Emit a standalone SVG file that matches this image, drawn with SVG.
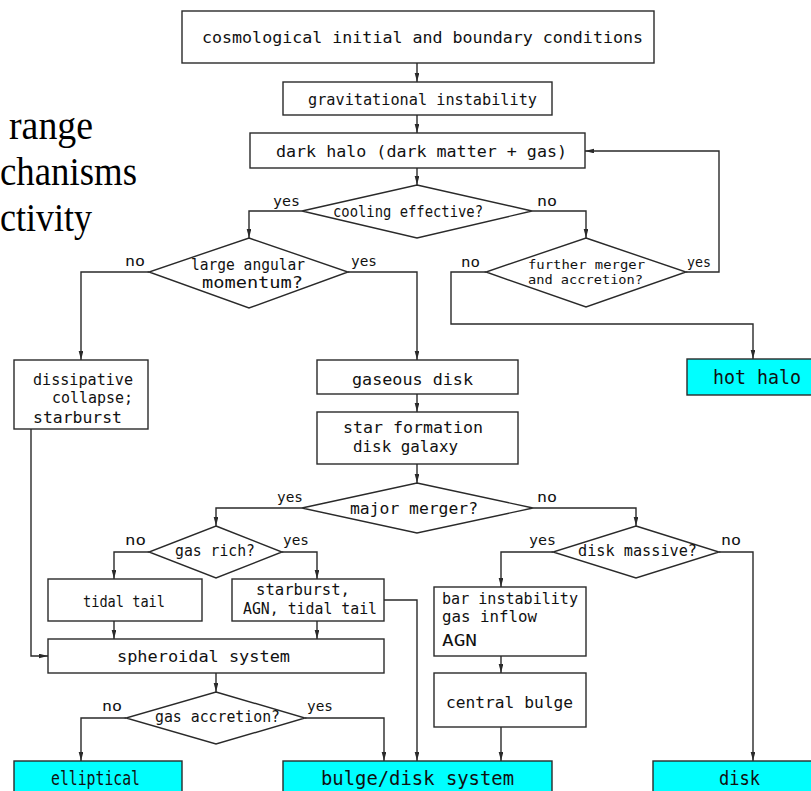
<svg xmlns="http://www.w3.org/2000/svg" width="811" height="791" viewBox="0 0 811 791">
<style>
  .box{fill:#fff;stroke:#2a2a2a;stroke-width:1.4}
  .term{fill:#00ffff;stroke:#2a2a2a;stroke-width:1.4}
  .dia{fill:#fff;stroke:#2a2a2a;stroke-width:1.4}
  .con{fill:none;stroke:#2a2a2a;stroke-width:1.4}
  text{font-family:"DejaVu Sans Mono","Liberation Mono",monospace;fill:#111}
  .t{font-size:16px}
  .s{font-size:13px}
  .l{font-size:14px}
  .big{font-size:19px}
  .slide{font-family:"Liberation Serif","Times New Roman",serif;font-size:39px;fill:#000}
</style>
<defs>
  <marker id="ah" markerUnits="userSpaceOnUse" markerWidth="10" markerHeight="6" refX="9" refY="2.3" orient="auto">
    <path d="M0,0 L9,2.3 L0,4.6 z" fill="#2a2a2a"/>
  </marker>
</defs>
<rect width="811" height="791" fill="#fff"/>

<g id="slide-text">
  <text class="slide" x="9" y="139" textLength="84" lengthAdjust="spacingAndGlyphs">range</text>
  <text class="slide" x="0" y="185" textLength="137" lengthAdjust="spacingAndGlyphs">chanisms</text>
  <text class="slide" x="0" y="231" textLength="92" lengthAdjust="spacingAndGlyphs">ctivity</text>
</g>

<g id="connectors">
  <path class="con" marker-end="url(#ah)" d="M417,63 V82"/>
  <path class="con" marker-end="url(#ah)" d="M417,115 V133"/>
  <path class="con" marker-end="url(#ah)" d="M417,168 V185"/>
  <path class="con" marker-end="url(#ah)" d="M302,211 H249 V238"/>
  <path class="con" marker-end="url(#ah)" d="M532,211 H586 V238"/>
  <path class="con" marker-end="url(#ah)" d="M686,272 H719 V151 H585"/>
  <path class="con" marker-end="url(#ah)" d="M486,272 H451 V324 H753 V359"/>
  <path class="con" marker-end="url(#ah)" d="M149,272 H81 V360"/>
  <path class="con" marker-end="url(#ah)" d="M348,272 H417 V360"/>
  <path class="con" marker-end="url(#ah)" d="M417,394 V412"/>
  <path class="con" marker-end="url(#ah)" d="M417,464 V483"/>
  <path class="con" marker-end="url(#ah)" d="M302,508 H216 V526"/>
  <path class="con" marker-end="url(#ah)" d="M533,508 H636 V526"/>
  <path class="con" marker-end="url(#ah)" d="M149,552 H114 V579"/>
  <path class="con" marker-end="url(#ah)" d="M282,552 H317 V579"/>
  <path class="con" marker-end="url(#ah)" d="M553,552 H501 V587"/>
  <path class="con" marker-end="url(#ah)" d="M719,552 H753 V761"/>
  <path class="con" marker-end="url(#ah)" d="M384,600 H417 V761"/>
  <path class="con" marker-end="url(#ah)" d="M114,621 V639"/>
  <path class="con" marker-end="url(#ah)" d="M317,621 V639"/>
  <path class="con" marker-end="url(#ah)" d="M31,429 V656 H48"/>
  <path class="con" marker-end="url(#ah)" d="M216,673 V692"/>
  <path class="con" marker-end="url(#ah)" d="M126,718 H81 V761"/>
  <path class="con" marker-end="url(#ah)" d="M305,718 H384 V761"/>
  <path class="con" marker-end="url(#ah)" d="M501,656 V673"/>
  <path class="con" marker-end="url(#ah)" d="M501,727 V761"/>
</g>

<g id="n-cosmo">
  <rect class="box" x="182" y="11" width="472" height="52"/>
  <text class="t" x="202" y="43" textLength="441" lengthAdjust="spacingAndGlyphs">cosmological initial and boundary conditions</text>
</g>
<g id="n-grav">
  <rect class="box" x="283" y="82" width="269" height="33"/>
  <text class="t" x="308" y="105" textLength="229" lengthAdjust="spacingAndGlyphs">gravitational instability</text>
</g>
<g id="n-darkhalo">
  <rect class="box" x="250" y="133" width="335" height="35"/>
  <text class="t" x="276" y="157" textLength="291" lengthAdjust="spacingAndGlyphs">dark halo (dark matter + gas)</text>
</g>
<g id="n-cooling">
  <polygon class="dia" points="417,185 532,211 417,238 302,211"/>
  <text class="t" x="333" y="217" textLength="150" lengthAdjust="spacingAndGlyphs">cooling effective?</text>
  <text class="l" x="273" y="206" textLength="27" lengthAdjust="spacingAndGlyphs">yes</text>
  <text class="l" x="537" y="206" textLength="20" lengthAdjust="spacingAndGlyphs">no</text>
</g>
<g id="n-angular">
  <polygon class="dia" points="249,238 348,272 249,308 149,272"/>
  <text class="t" x="191" y="270" textLength="114" lengthAdjust="spacingAndGlyphs">large angular</text>
  <text class="t" x="202" y="288" textLength="101" lengthAdjust="spacingAndGlyphs">momentum?</text>
  <text class="l" x="125" y="266" textLength="20" lengthAdjust="spacingAndGlyphs">no</text>
  <text class="l" x="351" y="266" textLength="26" lengthAdjust="spacingAndGlyphs">yes</text>
</g>
<g id="n-further">
  <polygon class="dia" points="586,238 686,272 586,307 486,272"/>
  <text class="s" x="528" y="269" textLength="117" lengthAdjust="spacingAndGlyphs">further merger</text>
  <text class="s" x="528" y="284" textLength="115" lengthAdjust="spacingAndGlyphs">and accretion?</text>
  <text class="l" x="461" y="267" textLength="19" lengthAdjust="spacingAndGlyphs">no</text>
  <text class="l" x="687" y="267" textLength="24" lengthAdjust="spacingAndGlyphs">yes</text>
</g>
<g id="n-hothalo">
  <rect class="term" x="687" y="359" width="130" height="36"/>
  <text class="big" x="713" y="384" textLength="88" lengthAdjust="spacingAndGlyphs">hot halo</text>
</g>
<g id="n-dissipative">
  <rect class="box" x="14" y="360" width="134" height="69"/>
  <text class="t" x="33" y="385" textLength="100" lengthAdjust="spacingAndGlyphs">dissipative</text>
  <text class="t" x="52" y="403" textLength="81" lengthAdjust="spacingAndGlyphs">collapse;</text>
  <text class="t" x="33" y="423" textLength="89" lengthAdjust="spacingAndGlyphs">starburst</text>
</g>
<g id="n-gaseous">
  <rect class="box" x="317" y="360" width="201" height="34"/>
  <text class="t" x="352" y="385" textLength="121" lengthAdjust="spacingAndGlyphs">gaseous disk</text>
</g>
<g id="n-starformation">
  <rect class="box" x="317" y="412" width="201" height="52"/>
  <text class="t" x="343" y="433" textLength="140" lengthAdjust="spacingAndGlyphs">star formation</text>
  <text class="t" x="353" y="452" textLength="105" lengthAdjust="spacingAndGlyphs">disk galaxy</text>
</g>
<g id="n-major">
  <polygon class="dia" points="417,483 533,508 417,533 302,508"/>
  <text class="t" x="350" y="514" textLength="128" lengthAdjust="spacingAndGlyphs">major merger?</text>
  <text class="l" x="277" y="502" textLength="26" lengthAdjust="spacingAndGlyphs">yes</text>
  <text class="l" x="537" y="502" textLength="20" lengthAdjust="spacingAndGlyphs">no</text>
</g>
<g id="n-gasrich">
  <polygon class="dia" points="216,526 282,552 216,578 149,552"/>
  <text class="t" x="175" y="556" textLength="80" lengthAdjust="spacingAndGlyphs">gas rich?</text>
  <text class="l" x="125" y="545" textLength="21" lengthAdjust="spacingAndGlyphs">no</text>
  <text class="l" x="283" y="545" textLength="26" lengthAdjust="spacingAndGlyphs">yes</text>
</g>
<g id="n-diskmassive">
  <polygon class="dia" points="636,526 719,552 636,578 553,552"/>
  <text class="t" x="578" y="556" textLength="119" lengthAdjust="spacingAndGlyphs">disk massive?</text>
  <text class="l" x="529" y="545" textLength="27" lengthAdjust="spacingAndGlyphs">yes</text>
  <text class="l" x="721" y="545" textLength="20" lengthAdjust="spacingAndGlyphs">no</text>
</g>
<g id="n-tidal">
  <rect class="box" x="48" y="579" width="154" height="42"/>
  <text class="t" x="83" y="607" textLength="82" lengthAdjust="spacingAndGlyphs">tidal tail</text>
</g>
<g id="n-starburst">
  <rect class="box" x="232" y="579" width="152" height="42"/>
  <text class="t" x="256" y="595" textLength="94" lengthAdjust="spacingAndGlyphs">starburst,</text>
  <text class="t" x="243" y="614" textLength="134" lengthAdjust="spacingAndGlyphs">AGN, tidal tail</text>
</g>
<g id="n-spheroidal">
  <rect class="box" x="48" y="639" width="336" height="34"/>
  <text class="t" x="117" y="662" textLength="173" lengthAdjust="spacingAndGlyphs">spheroidal system</text>
</g>
<g id="n-gasaccretion">
  <polygon class="dia" points="216,692 305,718 216,744 126,718"/>
  <text class="t" x="155" y="722" textLength="125" lengthAdjust="spacingAndGlyphs">gas accretion?</text>
  <text class="l" x="102" y="711" textLength="20" lengthAdjust="spacingAndGlyphs">no</text>
  <text class="l" x="307" y="711" textLength="26" lengthAdjust="spacingAndGlyphs">yes</text>
</g>
<g id="n-bar">
  <rect class="box" x="434" y="587" width="152" height="69"/>
  <text class="t" x="442" y="604" textLength="136" lengthAdjust="spacingAndGlyphs">bar instability</text>
  <text class="t" x="442" y="622" textLength="95" lengthAdjust="spacingAndGlyphs">gas inflow</text>
  <text class="t" x="442" y="646" textLength="35" lengthAdjust="spacingAndGlyphs">AGN</text>
</g>
<g id="n-centralbulge">
  <rect class="box" x="434" y="673" width="152" height="54"/>
  <text class="t" x="446" y="708" textLength="127" lengthAdjust="spacingAndGlyphs">central bulge</text>
</g>
<g id="n-elliptical">
  <rect class="term" x="14" y="761" width="168" height="40"/>
  <text class="big" x="51" y="785" textLength="89" lengthAdjust="spacingAndGlyphs">elliptical</text>
</g>
<g id="n-bulgedisk">
  <rect class="term" x="283" y="761" width="269" height="40"/>
  <text class="big" x="321" y="785" textLength="193" lengthAdjust="spacingAndGlyphs">bulge/disk system</text>
</g>
<g id="n-disk">
  <rect class="term" x="653" y="761" width="170" height="40"/>
  <text class="big" x="719" y="785" textLength="41" lengthAdjust="spacingAndGlyphs">disk</text>
</g>
</svg>
